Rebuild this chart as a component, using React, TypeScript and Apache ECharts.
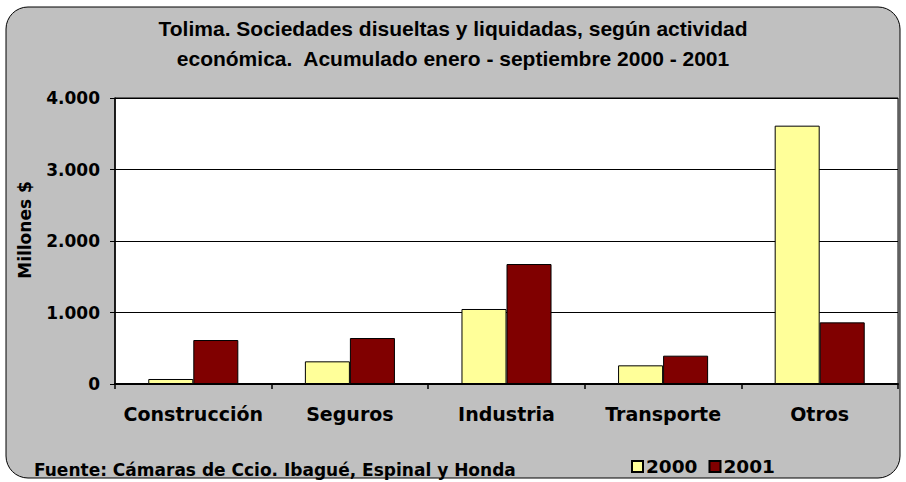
import React, { useEffect, useRef } from "react";
import * as echarts from "echarts";

const categories = ["Construcción", "Seguros", "Industria", "Transporte", "Otros"];
const values2000 = [70, 317, 1049, 261, 3613];
const values2001 = [615, 643, 1678, 396, 862];
const seriesNames = ["2000", "2001"];
const titleText = "Tolima. Sociedades disueltas y liquidadas, según actividad\neconómica.  Acumulado enero - septiembre 2000 - 2001";
const yAxisTitle = "Millones $";
const sourceText = "Fuente: Cámaras de Ccio. Ibagué, Espinal y Honda";

const TITLE_FONT = "'Liberation Sans', Arial, sans-serif";
const FONT = "'DejaVu Sans', 'Liberation Sans', sans-serif";

export default function App() {
  const ref = useRef<HTMLDivElement>(null);
  useEffect(() => {
    const chart = echarts.init(ref.current!, undefined, { renderer: "svg" });
    chart.setOption({
      animation: false,
      backgroundColor: "#ffffff",
      textStyle: { fontFamily: FONT },
      title: {
        text: titleText,
        left: "center",
        top: 8,
        textStyle: { fontSize: 21, fontWeight: "bold", lineHeight: 30, color: "#000", fontFamily: TITLE_FONT },
      },
      graphic: [
        {
          type: "rect",
          z: -10,
          shape: { x: 6, y: 7, width: 894, height: 471, r: 22 },
          style: { fill: "#C0C0C0", stroke: "#000", lineWidth: 1 },
        },
        {
          type: "text",
          x: 25,
          y: 230,
          rotation: Math.PI / 2,
          style: {
            text: yAxisTitle,
            align: "center",
            verticalAlign: "middle",
            font: `bold 17px ${FONT}`,
            fill: "#000",
          },
        },
        {
          type: "text",
          x: 34,
          y: 470,
          style: {
            text: sourceText,
            align: "left",
            verticalAlign: "middle",
            font: `bold 17px ${FONT}`,
            fill: "#000",
          },
        },
      ],
      legend: {
        left: 626,
        top: 452,
        itemWidth: 11,
        itemHeight: 11,
        itemGap: 11,
        icon: "rect",
        data: seriesNames,
        textStyle: { fontSize: 18.5, fontWeight: "bold", color: "#000", fontFamily: FONT, padding: [0, 0, 0, -2] },
      },
      grid: {
        left: 115,
        right: 8,
        top: 98,
        bottom: 98,
        show: true,
        backgroundColor: "#ffffff",
        borderColor: "#000",
        borderWidth: 1,
      },
      xAxis: {
        type: "category",
        data: categories,
        axisLine: { lineStyle: { color: "#000", width: 2 } },
        axisTick: { show: true, length: 5, inside: false, lineStyle: { color: "#000", width: 1.5 } },
        axisLabel: { interval: 0, fontSize: 19, fontWeight: "bold", color: "#000", margin: 20, fontFamily: FONT },
      },
      yAxis: {
        type: "value",
        min: 0,
        max: 4000,
        interval: 1000,
        axisLine: { show: true, lineStyle: { color: "#000", width: 1.5 } },
        axisTick: { show: true, length: 5, lineStyle: { color: "#000" } },
        splitLine: { show: true, lineStyle: { color: "#000", width: 1 } },
        axisLabel: {
          fontSize: 17,
          fontWeight: "bold",
          color: "#000",
          margin: 15,
          fontFamily: FONT,
          formatter: (v: number) => (v === 0 ? "0" : v.toLocaleString("de-DE")),
        },
      },
      series: [
        {
          name: seriesNames[0],
          type: "bar",
          data: values2000,
          barGap: "0%",
          barCategoryGap: "42.5%",
          itemStyle: { color: "#FFFF99", borderColor: "#000", borderWidth: 1 },
        },
        {
          name: seriesNames[1],
          type: "bar",
          data: values2001,
          barGap: "0%",
          barCategoryGap: "42.5%",
          itemStyle: { color: "#800000", borderColor: "#000", borderWidth: 1 },
        },
      ],
    });
    return () => chart.dispose();
  }, []);
  return <div ref={ref} style={{ position: "fixed", left: 0, top: 0, width: 906, height: 482 }} />;
}
